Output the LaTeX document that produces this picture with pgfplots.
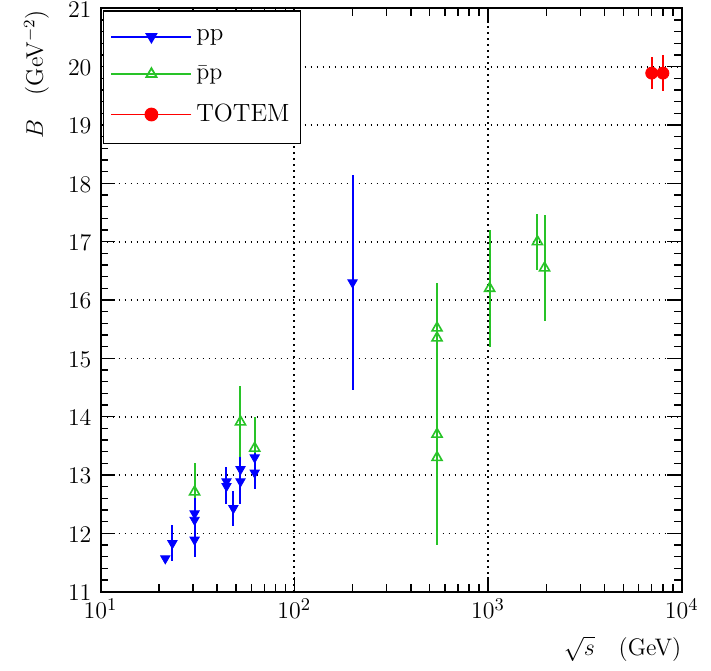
\documentclass[border=0pt]{standalone}
\usepackage{pgfplots}
\pgfplotsset{compat=1.18}
\definecolor{pgreen}{RGB}{40,195,40}
\begin{document}
\begin{tikzpicture}
\begin{axis}[
  at={(0,0)}, anchor=south west,
  scale only axis, width=290.6bp, height=291.65bp,
  xmode=log, xmin=10, xmax=10000,
  ymin=11, ymax=21,
  xtick={10,100,1000,10000},
  ytick={11,12,...,21},
  minor y tick num=4,
  tick align=inside,
  major tick length=7.5bp, minor tick length=4bp,
  every tick/.style={black, line width=0.7bp},
  axis line style={line width=1bp},
  grid=major,
  major grid style={black, line width=0.8bp, dash pattern=on 0.8bp off 2.2bp},
  ticklabel style={font=\fontsize{13}{15}\selectfont},
  yticklabel style={xshift=-1bp, yshift=-0.5bp},
  xlabel={$\sqrt{s}$\quad(GeV)},
  xlabel style={at={(rel axis cs:1,0)}, anchor=north east, yshift=-22bp, font=\fontsize{12}{14}\selectfont, inner sep=0pt},
  ylabel={$B$\quad(GeV$^{-2}$)},
  ylabel style={at={(rel axis cs:-0.088,0.998)}, anchor=south east, font=\fontsize{12}{14}\selectfont, inner sep=0pt},
  legend image code/.code={\draw[mark repeat=2,mark phase=2,#1] plot coordinates {(0bp,0bp) (20bp,0bp) (40bp,0bp)};},
  legend style={at={(rel axis cs:0.004,0.997)}, anchor=north west, draw=black, line width=0.7bp, fill=white,
    font=\fontsize{12.5}{15}\selectfont, inner xsep=3.5bp, inner ysep=7.5bp, row sep=7bp},
  legend cell align=left,
]
\addlegendimage{draw=blue, fill=blue, line width=0.9bp, mark=triangle*, mark size=2.7bp, mark options={rotate=180, solid}}
\addlegendentry{pp}
\addlegendimage{draw=pgreen, line width=0.9bp, mark=triangle, mark size=2.9bp, mark options={solid, fill=white}}
\addlegendentry{$\bar{\mathrm{p}}\mathrm{p}$}
\addlegendimage{draw=red, fill=red, line width=0.9bp, mark=*, mark size=3bp, mark options={solid, draw=red, fill=red}}
\addlegendentry{TOTEM}

% pbar p
\addplot[forget plot, only marks, pgreen, mark=triangle, mark size=2.9bp,
  mark options={line width=0.8bp, solid, fill=white},
  error bars/.cd, y dir=both, y explicit, error mark=none,
  error bar style={line width=1bp, pgreen}]
coordinates {
 (30.6,12.71) +- (0,0.50)
 (52.8,13.91) +- (0,0.61)
 (62.5,13.46) +- (0,0.53)
 (546,15.52) +- (0,0.78)
 (546,15.35) +- (0,0.20)
 (546,13.70) +- (0,0.50)
 (546,13.30) +- (0,1.50)
 (1020,16.20) +- (0,1.00)
 (1800,17.00) +- (0,0.48)
 (1960,16.55) +- (0,0.91)
};

% p p
\addplot[forget plot, only marks, blue, mark=triangle*, mark size=2.7bp,
  mark options={rotate=180, solid},
  error bars/.cd, y dir=both, y explicit, error mark=none,
  error bar style={line width=1bp, blue}]
coordinates {
 (21.6,11.57) +- (0,0.0)
 (23.5,11.83) +- (0,0.31)
 (30.6,12.34) +- (0,0.26)
 (30.6,12.23) +- (0,0.30)
 (30.6,11.89) +- (0,0.29)
 (44.7,12.89) +- (0,0.24)
 (44.7,12.81) +- (0,0.31)
 (48.5,12.43) +- (0,0.30)
 (52.8,13.10) +- (0,0.21)
 (52.8,12.89) +- (0,0.39)
 (62.5,13.30) +- (0,0.07)
 (62.5,13.04) +- (0,0.28)
 (200,16.30) +- (0,1.84)
};

% TOTEM
\addplot[forget plot, only marks, red, mark=*, mark size=3bp,
  error bars/.cd, y dir=both, y explicit, error mark=none,
  error bar style={line width=1bp, red}]
coordinates {
 (7000,19.89) +- (0,0.27)
 (8000,19.89) +- (0,0.31)
};
\end{axis}
\pgfresetboundingbox
\useasboundingbox (-50.25bp,-39.65bp) rectangle (305.25bp,295.85bp);
\end{tikzpicture}
\end{document}
